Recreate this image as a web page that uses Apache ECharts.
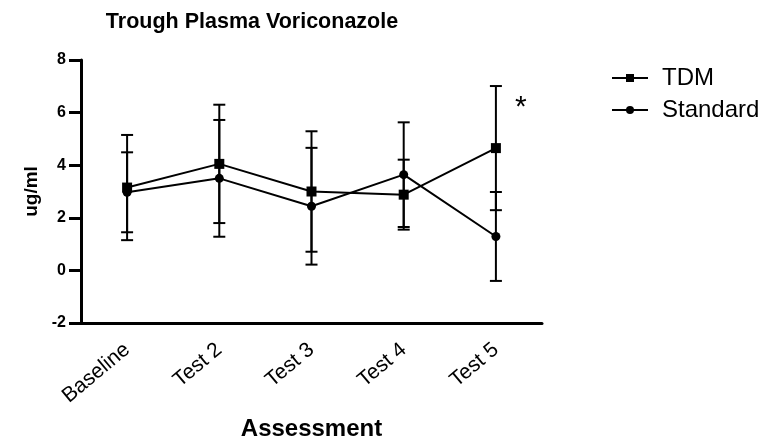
<!DOCTYPE html>
<html>
<head>
<meta charset="utf-8">
<script src="https://cdn.jsdelivr.net/npm/echarts@6/dist/echarts.min.js"></script>
<style>
html,body{margin:0;padding:0;background:#fff;}
#chart{width:769px;height:443px;}
</style>
</head>
<body>
<div id="chart"></div>
<script>
var categories = ['Baseline', 'Test 2', 'Test 3', 'Test 4', 'Test 5'];
var tdmMean = [3.15, 4.05, 3.00, 2.88, 4.65];
var tdmErr = [2.00, 2.25, 2.29, 1.33, 2.36];
var stdMean = [2.97, 3.50, 2.44, 3.64, 1.29];
var stdErr = [1.52, 2.22, 2.22, 1.99, 1.69];
var yTicks = [-2, 0, 2, 4, 6, 8];
var starLabel = '*';
var starValue = 6.4;

var FONT = '"Liberation Sans", Arial, sans-serif';

function errData(mean, err) {
  return mean.map(function (m, i) { return [i, m - err[i], m + err[i]]; });
}

function renderErr(params, api) {
  var x = api.value(0);
  var lo = api.coord([x, api.value(1)]);
  var hi = api.coord([x, api.value(2)]);
  var hw = 6;
  var style = { stroke: '#000', lineWidth: 2 };
  return {
    type: 'group',
    children: [
      { type: 'line', shape: { x1: lo[0], y1: lo[1], x2: hi[0], y2: hi[1] }, style: style },
      { type: 'line', shape: { x1: lo[0] - hw, y1: lo[1], x2: lo[0] + hw, y2: lo[1] }, style: style },
      { type: 'line', shape: { x1: hi[0] - hw, y1: hi[1], x2: hi[0] + hw, y2: hi[1] }, style: style }
    ]
  };
}

var chart = echarts.init(document.getElementById('chart'), null, { renderer: 'canvas' });
chart.setOption({
  backgroundColor: '#fff',
  animation: false,
  title: {
    text: 'Trough Plasma Voriconazole',
    left: 252,
    textAlign: 'center',
    top: 11,
    padding: 0,
    textStyle: { fontFamily: FONT, fontWeight: 'bold', fontSize: 21.5, color: '#000' }
  },
  legend: {
    data: ['TDM', 'Standard'],
    orient: 'vertical',
    left: 611,
    top: 66,
    padding: 0,
    itemWidth: 36,
    itemHeight: 10,
    itemGap: 8,
    textStyle: { fontFamily: FONT, fontSize: 24, color: '#000', lineHeight: 24, padding: [0, 0, 0, 9] }
  },
  grid: { left: 81, right: 227, top: 60, bottom: 120, containLabel: false, outerBoundsMode: 'none' },
  xAxis: {
    type: 'category',
    data: categories,
    boundaryGap: true,
    name: 'Assessment',
    nameLocation: 'middle',
    nameGap: 94,
    nameTextStyle: { fontFamily: FONT, fontWeight: 'bold', fontSize: 24, color: '#000' },
    axisLine: { onZero: false, lineStyle: { color: '#000', width: 3 } },
    axisTick: { alignWithLabel: true, length: 9, lineStyle: { color: '#000', width: 3 } },
    axisLabel: { rotate: 40, margin: 24, fontFamily: FONT, fontSize: 21, color: '#000', interval: 0 },
    splitLine: { show: false }
  },
  yAxis: {
    type: 'value',
    min: -2,
    max: 8,
    interval: 2,
    name: 'ug/ml',
    nameLocation: 'middle',
    nameGap: 33,
    nameTextStyle: { fontFamily: FONT, fontWeight: 'bold', fontSize: 19, color: '#000' },
    axisLine: { show: true, lineStyle: { color: '#000', width: 3 } },
    axisTick: { show: true, length: 12, lineStyle: { color: '#000', width: 3 } },
    axisLabel: {
      margin: 15, fontFamily: FONT, fontWeight: 'bold', fontSize: 16, color: '#000',
      formatter: function (v) { return yTicks.indexOf(v) >= 0 ? String(v) : ''; }
    },
    splitLine: { show: false }
  },
  series: [
    { name: 'TDM err', type: 'custom', renderItem: renderErr, data: errData(tdmMean, tdmErr), z: 2, silent: true },
    { name: 'Standard err', type: 'custom', renderItem: renderErr, data: errData(stdMean, stdErr), z: 2, silent: true },
    {
      name: 'TDM', type: 'line', data: tdmMean, z: 3,
      symbol: 'rect', symbolSize: 10, showAllSymbol: true,
      itemStyle: { color: '#000' },
      lineStyle: { color: '#000', width: 2 },
      markPoint: {
        symbol: 'circle', symbolSize: 0, silent: true,
        data: [{ coord: [categories.length - 1, starValue], value: starLabel }],
        label: { show: true, formatter: starLabel, offset: [25, 6], fontFamily: FONT, fontSize: 30, color: '#000' }
      }
    },
    {
      name: 'Standard', type: 'line', data: stdMean, z: 3,
      symbol: 'circle', symbolSize: 9, showAllSymbol: true,
      itemStyle: { color: '#000' },
      lineStyle: { color: '#000', width: 2 }
    }
  ]
});
</script>
</body>
</html>
